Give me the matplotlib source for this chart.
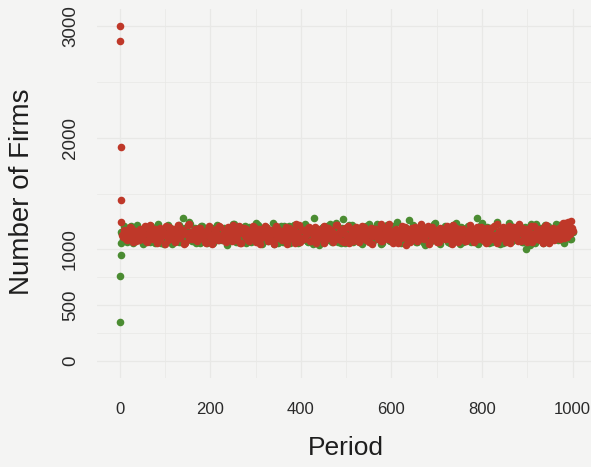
import matplotlib.pyplot as plt
import numpy as np

# first few periods (transient)
early_period = [0, 1, 2, 3]
green_early = [350, 765, 952, 1060]
red_early = [3005, 2870, 1920, 1440]

# periods 4, 8, ..., 1000
green_vals = [
    1152, 1098, 1187, 1064, 1133, 1210, 1075, 1141, 1119, 1196,
    1088, 1165, 1052, 1128, 1203, 1110, 1071, 1180, 1146, 1093,
    1224, 1117, 1060, 1158, 1135, 1082, 1199, 1126, 1049, 1171,
    1143, 1101, 1215, 1068, 1285, 1188, 1095, 1154, 1232, 1079,
    1121, 1062, 1177, 1139, 1208, 1090, 1145, 1057, 1168, 1113,
    1195, 1074, 1132, 1219, 1086, 1150, 1104, 1183, 1043, 1137,
    1161, 1097, 1228, 1069, 1125, 1176, 1083, 1142, 1206, 1058,
    1116, 1189, 1072, 1148, 1235, 1094, 1131, 1061, 1174, 1108,
    1200, 1080, 1155, 1123, 1047, 1192, 1136, 1089, 1213, 1067,
    1144, 1106, 1181, 1055, 1127, 1222, 1099, 1163, 1076, 1138,
    1170, 1091, 1209, 1063, 1149, 1118, 1280, 1085, 1157, 1042,
    1129, 1197, 1078, 1164, 1103, 1226, 1071, 1140, 1185, 1096,
    1153, 1059, 1270, 1112, 1179, 1087, 1134, 1216, 1066, 1147,
    1191, 1102, 1159, 1045, 1124, 1207, 1084, 1169, 1120, 1073,
    1139, 1230, 1092, 1156, 1061, 1184, 1115, 1198, 1077, 1142,
    1105, 1172, 1245, 1088, 1151, 1129, 1054, 1193, 1111, 1166,
    1081, 1218, 1137, 1068, 1175, 1100, 1211, 1057, 1146, 1123,
    1190, 1074, 1160, 1233, 1097, 1134, 1052, 1182, 1114, 1205,
    1065, 1148, 1108, 1221, 1085, 1167, 1127, 1048, 1194, 1138,
    1173, 1095, 1212, 1070, 1155, 1119, 1280, 1090, 1162, 1237,
    1079, 1143, 1201, 1060, 1130, 1186, 1099, 1225, 1116, 1051,
    1168, 1107, 1192, 1072, 1240, 1136, 1083, 1178, 1124, 1145,
    1204, 1063, 1157, 1002, 1189, 1093, 1228, 1126, 1058, 1171,
    1110, 1196, 1081, 1150, 1217, 1067, 1139, 1183, 1101, 1163,
    1230, 1087, 1174, 1121, 1056, 1199, 1142, 1208, 1094, 1160,
]
red_vals = [
    1245, 1112, 1168, 1083, 1140, 1195, 1101, 1157, 1074, 1128,
    1183, 1096, 1146, 1210, 1065, 1133, 1172, 1090, 1158, 1119,
    1077, 1190, 1125, 1152, 1049, 1137, 1201, 1108, 1163, 1086,
    1144, 1217, 1099, 1131, 1176, 1060, 1149, 1224, 1115, 1092,
    1166, 1081, 1139, 1193, 1104, 1155, 1071, 1127, 1186, 1110,
    1052, 1148, 1179, 1093, 1206, 1122, 1085, 1162, 1135, 1198,
    1117, 1075, 1170, 1141, 1097, 1213, 1058, 1151, 1124, 1181,
    1089, 1160, 1114, 1199, 1068, 1143, 1186, 1102, 1131, 1208,
    1154, 1078, 1127, 1173, 1045, 1138, 1192, 1111, 1164, 1095,
    1129, 1203, 1084, 1150, 1116, 1177, 1062, 1145, 1219, 1106,
    1171, 1094, 1136, 1188, 1073, 1156, 1121, 1204, 1087, 1147,
    1113, 1167, 1054, 1134, 1196, 1100, 1159, 1082, 1142, 1215,
    1091, 1149, 1180, 1066, 1127, 1211, 1105, 1153, 1076, 1190,
    1137, 1070, 1162, 1118, 1200, 1088, 1146, 1174, 1050, 1132,
    1184, 1109, 1157, 1227, 1079, 1141, 1195, 1098, 1165, 1123,
    1061, 1176, 1130, 1093, 1158, 1212, 1115, 1043, 1150, 1187,
    1104, 1139, 1197, 1072, 1161, 1120, 1183, 1096, 1144, 1209,
    1080, 1152, 1118, 1174, 1063, 1135, 1191, 1107, 1166, 1128,
    1198, 1090, 1143, 1221, 1103, 1155, 1069, 1182, 1126, 1147,
    1074, 1169, 1111, 1193, 1085, 1138, 1204, 1097, 1160, 1122,
    1179, 1057, 1148, 1116, 1188, 1092, 1133, 1226, 1081, 1154,
    1109, 1171, 1067, 1140, 1207, 1099, 1163, 1125, 1186, 1078,
    1145, 1196, 1102, 1159, 1071, 1132, 1214, 1094, 1150, 1118,
    1187, 1083, 1141, 1203, 1112, 1165, 1058, 1136, 1192, 1106,
    1127, 1175, 1098, 1218, 1145, 1240, 1116, 1199, 1255, 1161,
]
# periods 6, 10, ..., 998
green_vals_b = [
    1137, 1209, 1084, 1162, 1101, 1178, 1056, 1145, 1220, 1093,
    1168, 1119, 1072, 1194, 1130, 1087, 1213, 1149, 1061, 1175,
    1106, 1186, 1140, 1050, 1159, 1223, 1097, 1131, 1182, 1078,
    1153, 1067, 1201, 1116, 1170, 1091, 1139, 1248, 1082, 1164,
    1190, 1103, 1148, 1058, 1214, 1125, 1076, 1179, 1134, 1099,
    1061, 1157, 1207, 1112, 1143, 1085, 1196, 1128, 1071, 1185,
    1121, 1232, 1094, 1150, 1065, 1173, 1108, 1203, 1138, 1080,
    1199, 1070, 1161, 1127, 1088, 1218, 1146, 1053, 1167, 1114,
    1085, 1176, 1133, 1241, 1100, 1152, 1062, 1189, 1124, 1206,
    1147, 1092, 1211, 1074, 1163, 1118, 1197, 1057, 1142, 1181,
    1110, 1225, 1079, 1155, 1136, 1046, 1184, 1102, 1170, 1095,
    1192, 1064, 1144, 1208, 1089, 1131, 1172, 1115, 1236, 1068,
    1126, 1188, 1098, 1059, 1158, 1217, 1083, 1141, 1177, 1109,
    1073, 1151, 1204, 1120, 1090, 1166, 1229, 1063, 1135, 1194,
    1160, 1096, 1180, 1049, 1143, 1113, 1215, 1086, 1156, 1124,
    1212, 1078, 1138, 1171, 1055, 1195, 1107, 1149, 1260, 1092,
    1134, 1185, 1069, 1122, 1202, 1097, 1158, 1044, 1176, 1117,
    1088, 1163, 1227, 1105, 1140, 1071, 1187, 1129, 1210, 1082,
    1151, 1060, 1174, 1113, 1235, 1094, 1145, 1198, 1066, 1169,
    1120, 1206, 1087, 1154, 1101, 1181, 1053, 1139, 1222, 1110,
    1177, 1093, 1128, 1195, 1068, 1160, 1115, 1243, 1084, 1146,
    1059, 1189, 1134, 1103, 1216, 1075, 1157, 1125, 1184, 1097,
    1142, 1070, 1200, 1118, 1163, 1039, 1178, 1106, 1231, 1089,
    1167, 1124, 1057, 1193, 1136, 1210, 1080, 1152, 1112, 1186,
    1099, 1218, 1146, 1073, 1175, 1129, 1202, 1091, 1158,
]
red_vals_b = [
    1126, 1178, 1093, 1149, 1204, 1110, 1065, 1167, 1138, 1085,
    1160, 1119, 1191, 1072, 1143, 1215, 1099, 1132, 1180, 1054,
    1147, 1096, 1172, 1128, 1209, 1081, 1155, 1116, 1187, 1069,
    1135, 1199, 1104, 1163, 1047, 1141, 1222, 1090, 1152, 1113,
    1183, 1076, 1130, 1194, 1101, 1158, 1062, 1146, 1212, 1121,
    1097, 1170, 1139, 1083, 1201, 1124, 1159, 1071, 1186, 1108,
    1153, 1218, 1087, 1133, 1176, 1059, 1144, 1195, 1114, 1165,
    1078, 1137, 1206, 1102, 1161, 1129, 1052, 1184, 1120, 1148,
    1196, 1091, 1156, 1073, 1140, 1213, 1106, 1169, 1082, 1131,
    1164, 1048, 1190, 1117, 1152, 1094, 1227, 1125, 1066, 1178,
    1105, 1173, 1136, 1200, 1080, 1145, 1118, 1059, 1187, 1151,
    1132, 1207, 1089, 1160, 1111, 1174, 1070, 1142, 1220, 1098,
    1168, 1076, 1147, 1193, 1123, 1056, 1182, 1109, 1155, 1203,
    1085, 1139, 1211, 1100, 1166, 1128, 1063, 1189, 1117, 1150,
    1179, 1096, 1134, 1072, 1198, 1144, 1108, 1224, 1087, 1161,
    1121, 1185, 1058, 1153, 1107, 1171, 1205, 1092, 1138, 1067,
    1192, 1114, 1148, 1081, 1163, 1230, 1103, 1127, 1176, 1051,
    1143, 1202, 1095, 1158, 1119, 1069, 1185, 1134, 1097, 1210,
    1115, 1167, 1049, 1140, 1196, 1088, 1154, 1122, 1181, 1074,
    1157, 1100, 1219, 1129, 1064, 1172, 1111, 1146, 1203, 1083,
    1136, 1189, 1077, 1151, 1099, 1214, 1126, 1060, 1168, 1118,
    1201, 1090, 1142, 1175, 1055, 1133, 1197, 1106, 1159, 1229,
    1079, 1164, 1120, 1186, 1102, 1147, 1068, 1208, 1131, 1093,
    1173, 1111, 1054, 1155, 1217, 1098, 1141, 1183, 1086, 1162,
    1124, 1196, 1145, 1233, 1107, 1170, 1250, 1139, 1188,
]
period = np.arange(4, 1001, 4)
period_b = np.arange(6, 999, 4)

x_ticks = [0, 200, 400, 600, 800, 1000]
y_ticks = [0, 500, 1000, 2000, 3000]

bg = '#f4f4f3'
grid_col = '#e8e8e6'
green = '#4b8c32'
red = '#bf3829'
pt = 30

plt.rcParams['font.family'] = ['Liberation Sans', 'DejaVu Sans']

fig = plt.figure(figsize=(5.91, 4.67), dpi=100, facecolor=bg)
ax = fig.add_axes([97/591, 1-378/467, 494/591, 369/467])
ax.set_facecolor(bg)

# green first, red drawn on top
ax.scatter(early_period, green_early, s=pt, color=green, linewidths=0, zorder=3)
ax.scatter(period, green_vals, s=pt, color=green, linewidths=0, zorder=3)
ax.scatter(period_b, green_vals_b, s=pt, color=green, linewidths=0, zorder=3)
ax.scatter(early_period, red_early, s=pt, color=red, linewidths=0, zorder=4)
ax.scatter(period, red_vals, s=pt, color=red, linewidths=0, zorder=4)
ax.scatter(period_b, red_vals_b, s=pt, color=red, linewidths=0, zorder=4)

ax.set_xlim(-50, -50 + 494/0.453)
ax.set_ylim(-152, 3155)
ax.set_xticks(x_ticks)
ax.set_yticks(y_ticks)
ax.set_xticks([100, 300, 500, 700, 900], minor=True)
ax.set_yticks([250, 750, 1500, 2500], minor=True)
ax.grid(which='major', color=grid_col, lw=0.9, zorder=0)
ax.grid(which='minor', color=grid_col, lw=0.5, zorder=0)
ax.set_axisbelow(True)
for s in ax.spines.values():
    s.set_visible(False)

ax.tick_params(which='both', length=0)
ax.tick_params(axis='x', labelsize=12, pad=17, labelcolor='#2a2a2a')
ax.tick_params(axis='y', labelsize=13.5, pad=13, labelcolor='#2a2a2a')
for lab in ax.get_yticklabels():
    lab.set_rotation(90)
    lab.set_va('center')

fig.text(22/591, 1-192/467, 'Number of Firms', rotation=90, ha='center', va='center',
         fontsize=20, color='#1e1e1e')
fig.text(346/591, 1-455/467, 'Period', ha='center', va='baseline',
         fontsize=19, color='#1e1e1e')

fig.savefig('out.png', dpi=100, facecolor=bg)
